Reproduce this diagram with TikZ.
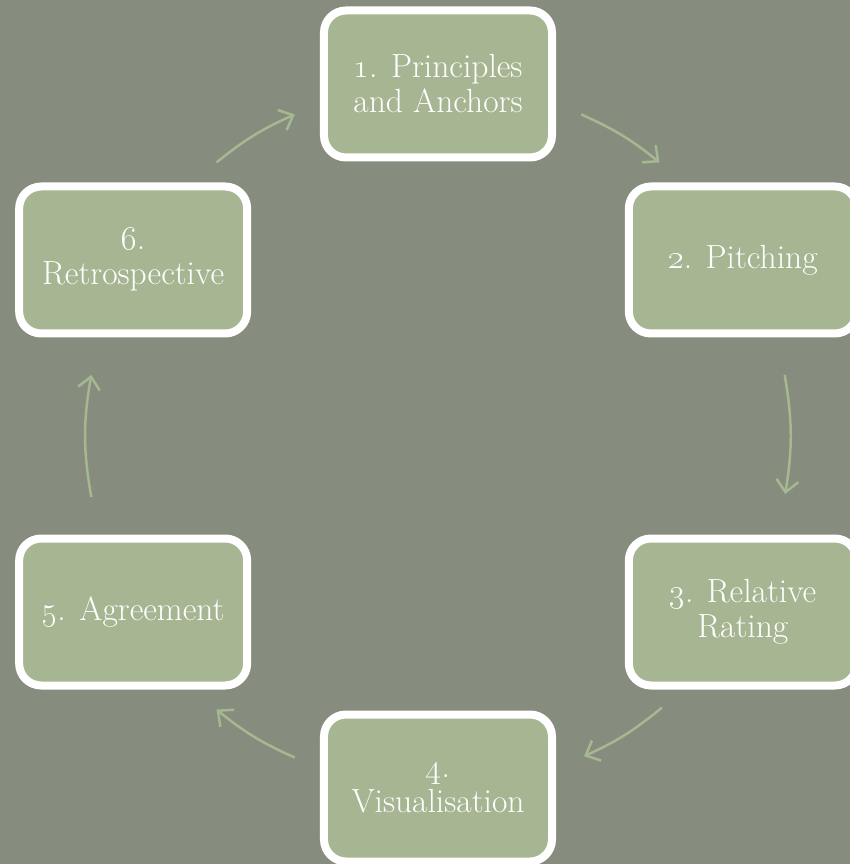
\documentclass[tikz,border=0pt]{standalone}
\usepackage{fix-cm}
\usetikzlibrary{arrows.meta}
\definecolor{bgcol}{HTML}{868C7E}
\definecolor{boxcol}{HTML}{A6B592}
\definecolor{arrcol}{HTML}{A5B890}
\tikzset{
  stage/.style={draw=white,line width=8pt,fill=boxcol,rounded corners=22pt,
    minimum width=228pt,minimum height=147pt,align=center,text=white,
    inner sep=2pt,font=\fontsize{33.5}{35}\selectfont},
  flow/.style={arrcol,line width=2.5pt,-{Straight Barb[length=12pt,width=22pt]}}
}
\begin{document}
\begin{tikzpicture}[x=1pt,y=1pt]
        \def\rad{352}
        \fill[bgcol] (-438,-428) rectangle (412,436);
        \useasboundingbox (-438,-428) rectangle (412,436);

        \node (p1) at (90:\rad) [stage] {\oldstylenums{1}. Principles\\and Anchors};
        \node (p2) at (30:\rad) [stage] {\oldstylenums{2}. Pitching};
        \node (p3) at (-30:\rad) [stage] {\oldstylenums{3}. Relative\\Rating};
        \node (p4) at (-90:\rad) [stage] {\oldstylenums{4}.\\Visualisation};
        \node (p5) at (-150:\rad) [stage] {\oldstylenums{5}. Agreement};
        \node (p6) at (150:\rad) [stage] {\oldstylenums{6}.\\Retrospective};

        \coordinate (a12) at (66:\rad);   \coordinate (b12) at (51:\rad);
        \coordinate (a23) at (10:\rad);   \coordinate (b23) at (-9.5:\rad);
        \coordinate (a34) at (-50.5:\rad); \coordinate (b34) at (-65.5:\rad);
        \coordinate (a45) at (-114:\rad); \coordinate (b45) at (-129:\rad);
        \coordinate (a56) at (-170:\rad); \coordinate (b56) at (170:\rad);
        \coordinate (a61) at (129:\rad);  \coordinate (b61) at (114:\rad);

        \draw[flow] (a12) to[bend left=7.5] (b12);
        \draw[flow] (a23) to[bend left=9.5] (b23);
        \draw[flow] (a34) to[bend left=7.5] (b34);
        \draw[flow] (a45) to[bend left=7.5] (b45);
        \draw[flow] (a56) to[bend left=10] (b56);
        \draw[flow] (a61) to[bend left=7.5] (b61);
      \end{tikzpicture}
\end{document}
